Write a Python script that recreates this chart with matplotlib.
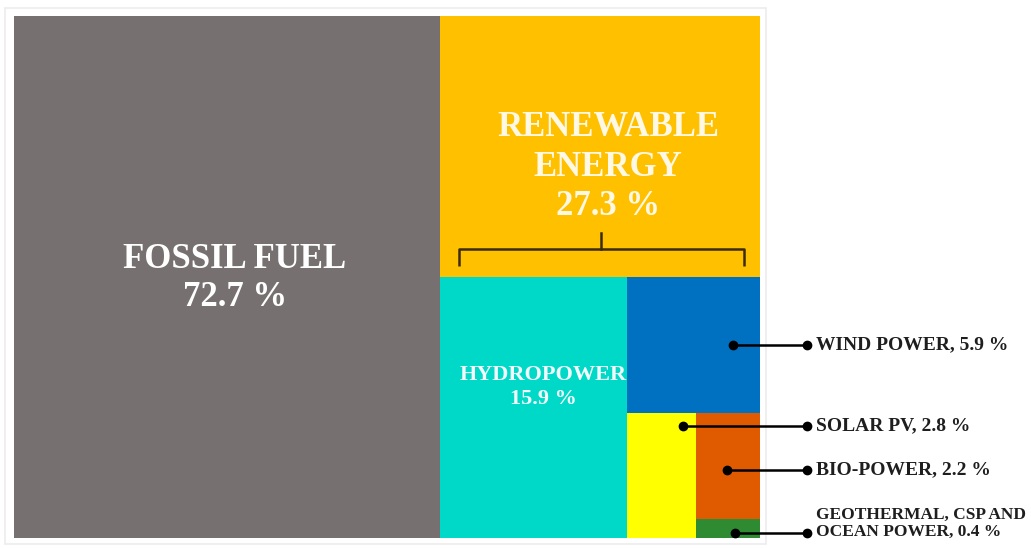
import matplotlib.pyplot as plt
from matplotlib.patches import Rectangle

# energy share, %
fossil_label = "FOSSIL FUEL"
fossil_share = 72.7
renew_label = "RENEWABLE\nENERGY"
renew_share = 27.3
renew_names = ["HYDROPOWER", "WIND POWER", "SOLAR PV", "BIO-POWER",
               "GEOTHERMAL, CSP AND\nOCEAN POWER"]
renew_values = [15.9, 5.9, 2.8, 2.2, 0.4]
renew_colors = ["#00d9c8", "#0070c0", "#ffff00", "#e05a00", "#2e8b32"]

# canvas layout in pixels
X0, Y0, X1, Y1 = 14, 16, 760, 538
FOSSIL_FRAC = 0.571   # width of the fossil column
HEADER_FRAC = 0.5     # height of the renewable header band

fig = plt.figure(figsize=(10.31, 5.48), dpi=100)
ax = fig.add_axes([0, 0, 1, 1])
ax.set_xlim(0, 1031)
ax.set_ylim(548, 0)
ax.axis("off")

serif = ["Liberation Serif", "DejaVu Serif"]

def box(x, y, w, h, color):
    ax.add_patch(Rectangle((x, y), w, h, facecolor=color, edgecolor="none"))

# light frame around the map
ax.add_patch(Rectangle((5, 8), 761, 536, facecolor="none",
                       edgecolor="#ececec", lw=1.2))

W, H = X1 - X0, Y1 - Y0
fx = X0 + W * FOSSIL_FRAC
box(X0, Y0, fx - X0, H, "#767170")
ax.text((X0 + fx) / 2 + 8, 278, f"{fossil_label}\n{fossil_share} %",
        color="white", ha="center", va="center", fontsize=25,
        fontweight="bold", family=serif, linespacing=1.2)

# renewable header
hy = Y0 + H * HEADER_FRAC
box(fx, Y0, X1 - fx, hy - Y0, "#ffc000")
ax.text((fx + X1) / 2 + 8, 167, f"{renew_label}\n{renew_share} %",
        color="#fff8e4", ha="center", va="center", fontsize=25,
        fontweight="bold", family=serif, linespacing=1.25)

# bracket over the breakdown
bl, br, by = fx + 19, X1 - 16, 249
ax.plot([bl, bl, br, br], [266, by, by, 266], color="#3b2c00", lw=1.8,
        solid_capstyle="butt")
ax.plot([(bl + br) / 2] * 2, [233, by], color="#3b2c00", lw=1.8)

# breakdown: hydro column, then wind row, then solar column, then bio / geo rows
total = sum(renew_values)
rw, rh = X1 - fx, Y1 - hy
hw = rw * renew_values[0] / total
rects = [(fx, hy, hw, rh)]
rest = total - renew_values[0]
x2 = fx + hw
wh = rh * renew_values[1] / rest
rects.append((x2, hy, X1 - x2, wh))
rest -= renew_values[1]
y3 = hy + wh
sw = (X1 - x2) * renew_values[2] / rest
rects.append((x2, y3, sw, Y1 - y3))
rest -= renew_values[2]
x4 = x2 + sw
bh = (Y1 - y3) * renew_values[3] / rest
rects.append((x4, y3, X1 - x4, bh))
rects.append((x4, y3 + bh, X1 - x4, Y1 - y3 - bh))

for (x, y, w, h), c in zip(rects, renew_colors):
    box(x, y, w, h, c)

x, y, w, h = rects[0]
ax.text(x + w / 2 + 10, 387, f"{renew_names[0]}\n{renew_values[0]} %",
        color="#f2fffd", ha="center", va="center", fontsize=16,
        fontweight="bold", family=serif, linespacing=1.3)

# callouts for the smaller sources
callouts = [(733, 345, 345, 14), (683, 426, 426, 14), (727, 470, 470, 14),
            (735, 533, 523, 12.5)]
for (sx, sy, ly, fs), name, val in zip(callouts, renew_names[1:],
                                       renew_values[1:]):
    ax.plot([sx, 807], [sy, sy], color="black", lw=1.8, marker="o",
            markersize=6)
    ax.text(816, ly, f"{name}, {val} %", color="#1e1e1e", ha="left",
            va="center", fontsize=fs, fontweight="bold", family=serif,
            linespacing=1.1)

fig.savefig("out.png", dpi=100)
